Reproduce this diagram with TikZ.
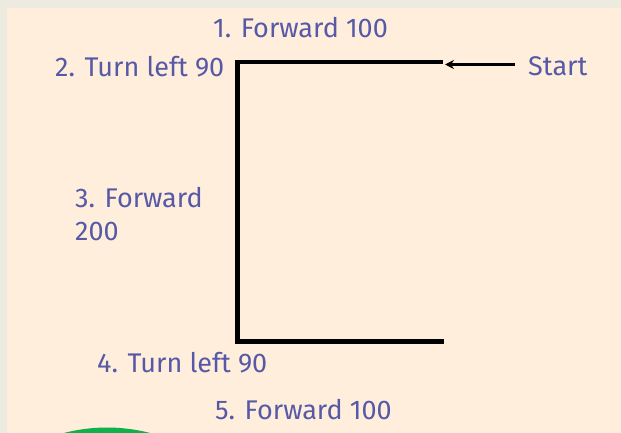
\documentclass[tikz,border=0pt]{standalone}
\usepackage{fontspec}
\setmainfont{Fira Sans}
\usetikzlibrary{positioning, arrows.meta}
\definecolor{paper}{HTML}{FFEEDC}
\definecolor{frame}{HTML}{EDEAE0}
\definecolor{ink}{HTML}{5659A6}
\definecolor{leaf}{HTML}{10B04A}

\begin{document}
\begin{tikzpicture}[x=1pt, y=-1pt]
    % Styles
    \tikzstyle{cmd} = [text=ink, font=\fontsize{27}{33}\selectfont, inner sep=0pt, anchor=base west, align=left]
    \tikzstyle{track} = [line width=4.5pt, line join=miter]
    \tikzstyle{arrow} = [line width=2.5pt, -{Stealth[length=9pt, width=9pt]}]

    % Page
    \useasboundingbox (0,0) rectangle (621,433);
    \clip (0,0) rectangle (621,433);
    \fill[frame] (0,0) rectangle (621,433);
    \fill[paper] (6.5,8) rectangle (621,433);
    \fill[leaf] (107,598.5) circle (171);

    % Turtle path
    \coordinate (TopEnd) at (442.5,62);
    \coordinate (TopLeft) at (237.5,62);
    \coordinate (BotLeft) at (237.5,341.5);
    \coordinate (BotEnd) at (444,341.5);
    \draw [track] (TopEnd) -- (TopLeft) -- (BotLeft) -- (BotEnd);

    % Start marker
    \coordinate (Tail) at (515,64.5);
    \coordinate (Tip) at (445,64.5);
    \node (Start) [cmd] at (528,76) {Start};
    \draw [arrow] (Tail) -- (Tip);

    % Steps
    \node (Step1) [cmd] at (213,37.5) {1. Forward 100};
    \node (Step2) [cmd] at (55,77) {2. Turn left 90};
    \node (Step3) [cmd] at (75,240) {3. Forward\\200};
    \node (Step4) [cmd] at (97,372) {4. Turn left 90};
    \node (Step5) [cmd] at (215,419) {5. Forward 100};

\end{tikzpicture}
\end{document}
